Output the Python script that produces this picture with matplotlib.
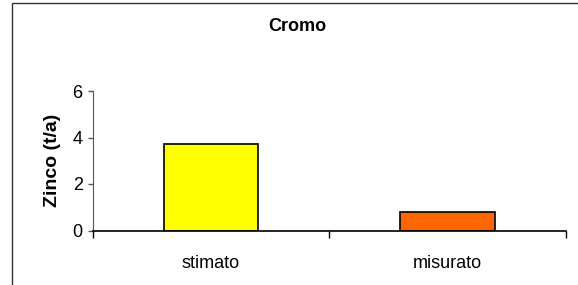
import matplotlib.pyplot as plt
from matplotlib.patches import Rectangle

plt.rcParams['font.family'] = ['Liberation Sans', 'DejaVu Sans']

categories = ['stimato', 'misurato']
values = [3.72, 0.79]
colors = ['#FFFF00', '#FF6600']

W, H = 578, 285
fig = plt.figure(figsize=(W / 100, H / 100), dpi=100)

# cornice esterna del grafico
fig.patches.append(Rectangle((12 / W, -0.1), 1.2, (H - 3) / H + 0.1,
                             transform=fig.transFigure, fill=False,
                             edgecolor='#333333', linewidth=1))

ax = fig.add_axes([92.5 / W, (H - 230.5) / H, (566 - 92.5) / W, (230.5 - 91) / H])

x = [i + 0.5 for i in range(len(categories))]
ax.bar(x, values, width=0.4, color=colors, edgecolor='black', linewidth=1.2)

ax.set_xlim(0, len(categories))
ax.set_ylim(0, 6)
ax.set_yticks([0, 2, 4, 6])

# tacche principali ai bordi delle categorie, etichette al centro
ax.set_xticks(range(len(categories) + 1))
ax.set_xticklabels([])
ax.set_xticks(x, minor=True)
ax.set_xticklabels(categories, minor=True)
ax.tick_params(axis='x', which='major', direction='out', length=5, width=1)
ax.tick_params(axis='x', which='minor', length=0, pad=18, labelsize=13)
ax.tick_params(axis='y', direction='out', length=3.6, width=1, labelsize=13,
               color='#555555')

for s in ['top', 'right']:
    ax.spines[s].set_visible(False)
ax.spines['left'].set_color('#555555')
ax.spines['bottom'].set_linewidth(1.2)

ax.set_ylabel('Zinco (t/a)', fontsize=14, fontweight='bold', labelpad=8)
fig.text(297 / W, 1 - 26.7 / H, 'Cromo', ha='center', va='center',
         fontsize=13, fontweight='bold')

fig.savefig('out.png', dpi=100)
